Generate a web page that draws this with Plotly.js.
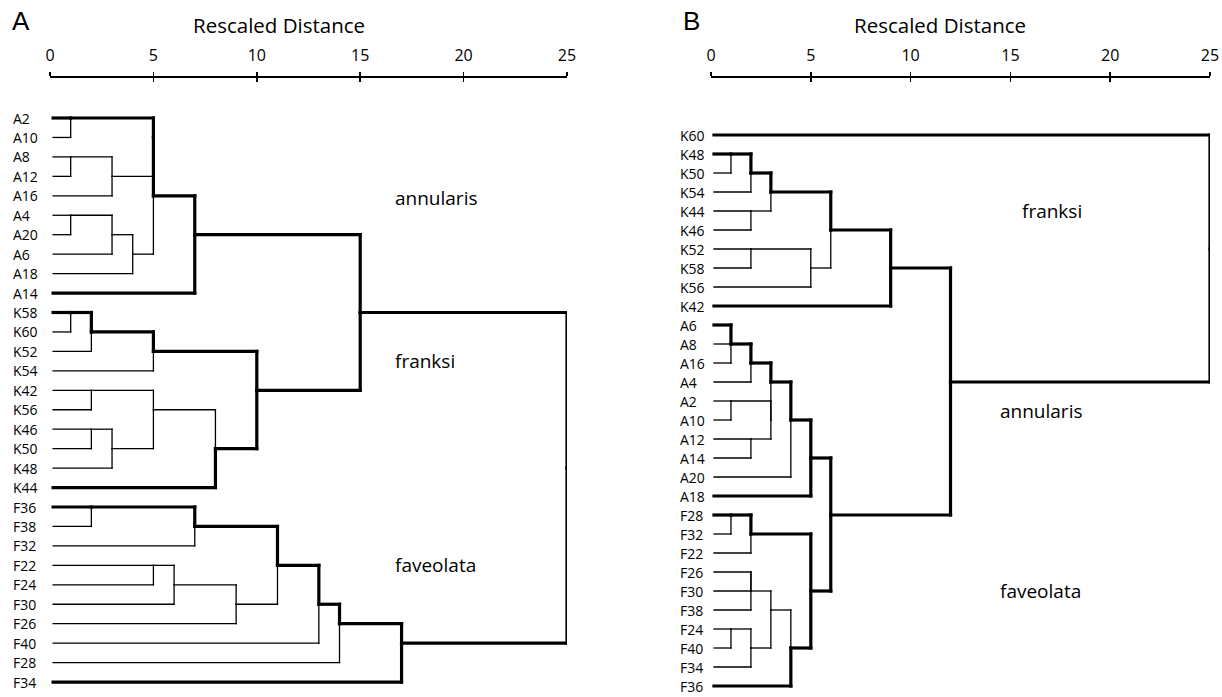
<!DOCTYPE html>
<html><head><meta charset="utf-8">
<script src="https://cdn.plot.ly/plotly-3.0.1.min.js"></script>
<style>
html,body{margin:0;padding:0;background:#fff}
#chart{width:1222px;height:697px}
.scatterlayer path.js-line{stroke-linecap:square}
</style>
</head><body><div id="chart"></div>
<script>
// ---------- Panel A ----------
const leavesA = ['A2','A10','A8','A12','A16','A4','A20','A6','A18','A14',
  'K58','K60','K52','K54','K42','K56','K46','K50','K48','K44',
  'F36','F38','F32','F22','F24','F30','F26','F40','F28','F34'];
// each merge n joins an upper and a lower cluster; '#k' = cluster formed by merge k
const mergeUpperA = ['A2','A8','A4','#1','#2','#4','#0','#6','#7',
  'K58','#9','#10','K42','K46','#13','#12','#15','#11',
  'F36','#18','F22','#20','#21','#19','#23','#24','#25','#8','#27'];
const mergeLowerA = ['A10','A12','A20','A16','A6','A18','#3','#5','A14',
  'K60','K52','K54','K56','K50','K48','#14','K44','#16',
  'F38','F32','F24','F30','F26','#22','F40','F28','F34','#17','#26'];
const mergeDistA = [1,1,1,3,3,4,5,5,7, 1,2,5,2,2,3,5,8,10, 2,7,5,6,9,11,13,14,17,15,25];
const groupMergeA = [8,17,26];
const groupNamesA = ['annularis','franksi','faveolata'];

// ---------- Panel B ----------
const leavesB = ['K60','K48','K50','K54','K44','K46','K52','K58','K56','K42',
  'A6','A8','A16','A4','A2','A10','A12','A14','A20','A18',
  'F28','F32','F22','F26','F30','F38','F24','F40','F34','F36'];
const mergeUpperB = ['K48','#0','K44','#1','K52','#4','#3','#6',
  'A6','#8','#9','A2','A12','#11','#10','#14','#15',
  'F28','#17','F26','#19','F24','#21','#20','#23','#18','#16','#7','K60'];
const mergeLowerB = ['K50','K54','K46','#2','K58','K56','#5','K42',
  'A8','A16','A4','A10','A14','#12','#13','A20','A18',
  'F32','F22','F30','F38','F40','F34','#22','F36','#24','#25','#26','#27'];
const mergeDistB = [1,2,2,3,2,5,6,9, 1,1,2,1,2,3,3,4,5, 1,2,2,2,1,2,3,4,5,6,12,25];
const groupMergeB = [7,16,25];
const groupNamesB = ['franksi','annularis','faveolata'];

const tickValues = [0,5,10,15,20,25];
const axisTitle = 'Rescaled Distance';
const panelLetters = ['A','B'];

// ---------- styles ----------
const LEAF0 = 0.15, THICK = 3.2, THIN = 1.3;
const W = 1222, H = 697;
const FONT = 'Open Sans, Noto Sans, sans-serif';

function buildTree(leaves, up, lo, dist, groups){
  const n = up.length;
  const ref = s => s[0] === '#' ? {m: +s.slice(1)} : {leaf: leaves.indexOf(s)};
  const kids = [], parent = new Array(n).fill(-1), row = new Array(n);
  for (let i = 0; i < n; i++){
    const a = ref(up[i]), b = ref(lo[i]);
    kids.push([a, b]);
    if (a.m !== undefined) parent[a.m] = i;
    if (b.m !== undefined) parent[b.m] = i;
  }
  const rowOf = c => c.m !== undefined ? row[c.m] : c.leaf;
  const key = c => c.m !== undefined ? 'm' + c.m : 'l' + c.leaf;
  for (let i = 0; i < n; i++) row[i] = Math.floor((rowOf(kids[i][0]) + rowOf(kids[i][1])) / 2);

  const thickH = new Set(), thickVU = new Set(), thickVL = new Set();
  function markUpper(i){ thickVU.add(i); const c = kids[i][0]; thickH.add(key(c)); if (c.m !== undefined) markUpper(c.m); }
  function markLower(i){ thickVL.add(i); const c = kids[i][1]; thickH.add(key(c)); if (c.m !== undefined) markLower(c.m); }
  const env = new Set();
  groups.forEach(g => { let k = g; while (k !== -1){ env.add(k); k = parent[k]; } });
  env.forEach(k => { markUpper(k); markLower(k); if (parent[k] !== -1) thickH.add('m' + k); });

  const thin = {x: [], y: []}, thick = {x: [], y: []};
  const push = (t, x0, y0, x1, y1) => { t.x.push(x0, x1, null); t.y.push(y0, y1, null); };
  for (let i = 0; i < n; i++){
    const d = dist[i];
    kids[i].forEach(c => {
      const x0 = c.m !== undefined ? dist[c.m] : LEAF0;
      if (d > x0) push(thickH.has(key(c)) ? thick : thin, x0, rowOf(c), d, rowOf(c));
    });
    const ru = rowOf(kids[i][0]), rl = rowOf(kids[i][1]), rm = row[i];
    if (rm > ru) push(thickVU.has(i) ? thick : thin, d, ru, d, rm);
    if (rl > rm) push(thickVL.has(i) ? thick : thin, d, rm, d, rl);
  }
  return {thin, thick, row};
}

const tA = buildTree(leavesA, mergeUpperA, mergeLowerA, mergeDistA, groupMergeA);
const tB = buildTree(leavesB, mergeUpperB, mergeLowerB, mergeDistB, groupMergeB);

function lineTrace(seg, w, xa, ya){
  return {x: seg.x, y: seg.y, xaxis: xa, yaxis: ya, mode: 'lines', type: 'scatter',
    line: {color: '#000', width: w}, hoverinfo: 'skip', showlegend: false, connectgaps: false};
}
const traces = [
  lineTrace(tA.thin, THIN, 'x', 'y'), lineTrace(tA.thick, THICK, 'x', 'y'),
  lineTrace(tB.thin, THIN, 'x2', 'y2'), lineTrace(tB.thick, THICK, 'x2', 'y2'),
  {x: [], y: [], xaxis: 'x3', yaxis: 'y', type: 'scatter', mode: 'lines', showlegend: false},
  {x: [], y: [], xaxis: 'x4', yaxis: 'y2', type: 'scatter', mode: 'lines', showlegend: false}
];

const axTop = 78;
function xAx(d0, d1, anchor){
  return {domain: [d0 / W, d1 / W], range: [0, 25], anchor: anchor, side: 'top',
    tickvals: tickValues, ticktext: tickValues.map(String), ticks: 'outside', ticklen: 4, tickwidth: 1.5,
    tickcolor: '#000', showline: true, linecolor: '#000', linewidth: 1.6, showgrid: false, zeroline: false,
    tickfont: {family: FONT, size: 16, color: '#000'}, ticklabelstandoff: 5, ticklabeloverflow: 'allow',
    fixedrange: true};
}
function insideAx(d0, d1, anchor, over){
  return {domain: [d0 / W, d1 / W], range: [0, 25], anchor: anchor, overlaying: over, side: 'top',
    tickvals: tickValues, ticks: 'inside', ticklen: 4, tickwidth: 1.5, tickcolor: '#000',
    showticklabels: false, showline: false, showgrid: false, zeroline: false, fixedrange: true};
}
const yDom = [0, 1 - axTop / H];
function yAx(r0, pitch){
  // first row drawn r0 px from the top, rows spaced by pitch px
  const top = (axTop - r0) / pitch, bot = (H - r0) / pitch;
  return {domain: yDom, range: [bot, top], visible: false, fixedrange: true};
}

const annotations = [];
function leafLabels(leaves, xPix, yref){
  leaves.forEach((lab, i) => annotations.push({text: lab, x: xPix / W, xref: 'paper', xanchor: 'left',
    y: i, yref: yref, yanchor: 'middle', showarrow: false, font: {family: FONT, size: 14, color: '#000'}}));
}
leafLabels(leavesA, 11, 'y');
leafLabels(leavesB, 678, 'y2');

function groupLabel(text, x, y, xref, yref){
  annotations.push({text: text, x: x, xref: xref, xanchor: 'left', y: y, yref: yref, yanchor: 'middle',
    showarrow: false, font: {family: FONT, size: 19, color: '#000'}});
}
const groupPosA = [[16.6, 4.1], [16.6, 12.5], [16.6, 23.0]];
const groupPosB = [[15.5, 4.0], [14.4, 14.5], [14.4, 24.0]];
groupNamesA.forEach((g, i) => groupLabel(g, groupPosA[i][0], groupPosA[i][1], 'x', 'y'));
groupNamesB.forEach((g, i) => groupLabel(g, groupPosB[i][0], groupPosB[i][1], 'x2', 'y2'));

[[279, panelLetters[0], 10], [940, panelLetters[1], 681]].forEach(([cx, letter, lx]) => {
  annotations.push({text: axisTitle, x: cx / W, xref: 'paper', xanchor: 'center', y: 1 - 25 / H, yref: 'paper',
    yanchor: 'middle', showarrow: false, font: {family: FONT, size: 20.5, color: '#000'}});
  annotations.push({text: letter, x: lx / W, xref: 'paper', xanchor: 'left', y: 1 - 21 / H, yref: 'paper',
    yanchor: 'middle', showarrow: false, font: {family: 'Liberation Sans, Arial, sans-serif', size: 26, color: '#000'}});
});

const layout = {
  width: W, height: H, margin: {l: 0, r: 0, t: 0, b: 0},
  paper_bgcolor: '#fff', plot_bgcolor: '#fff', showlegend: false, hovermode: false,
  xaxis: xAx(50, 567, 'y'), yaxis: yAx(118, 19.45),
  xaxis2: xAx(711, 1210, 'y2'), yaxis2: yAx(135, 19.0),
  xaxis3: insideAx(50, 567, 'y', 'x'),
  xaxis4: insideAx(711, 1210, 'y2', 'x2'),
  annotations: annotations
};
Plotly.newPlot('chart', traces, layout, {displayModeBar: false, staticPlot: true});
</script>
</body></html>
